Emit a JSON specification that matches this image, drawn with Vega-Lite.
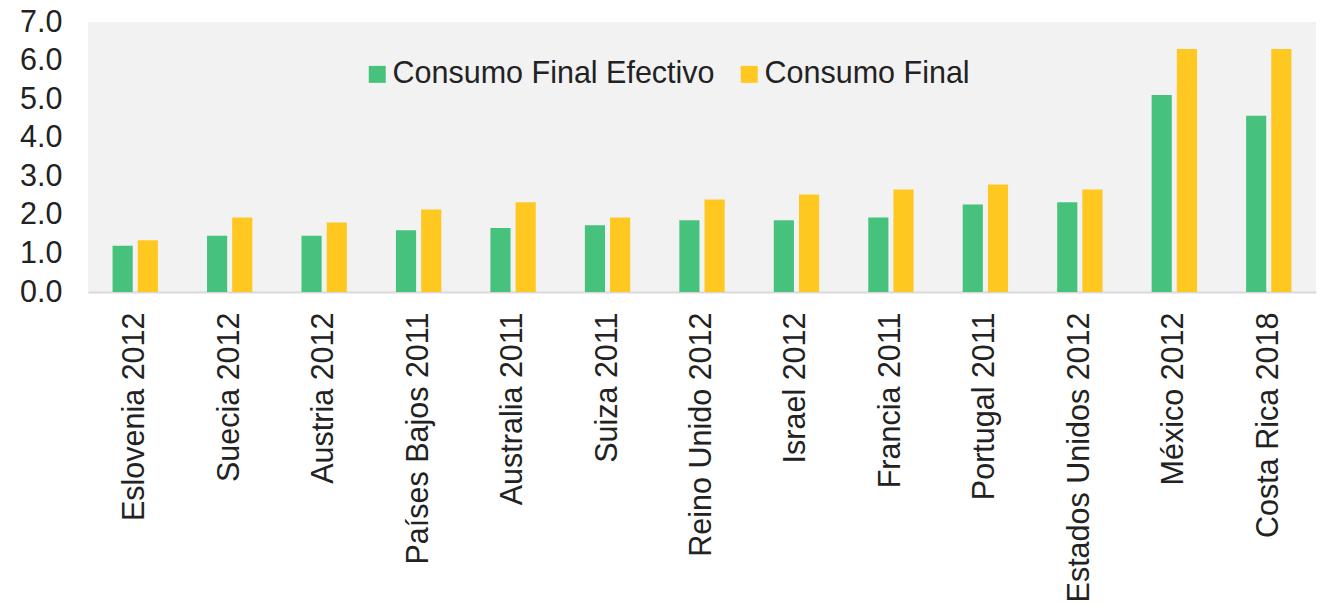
{
  "$schema": "https://vega.github.io/schema/vega-lite/v6.json",
  "width": 1228,
  "height": 270,
  "autosize": {"type": "none"},
  "padding": {"left": 88, "top": 22, "right": 11, "bottom": 312},
  "background": "#ffffff",
  "data": {
    "values": [
      {"pais": "Eslovenia 2012", "serie": "Consumo Final Efectivo", "valor": 1.20},
      {"pais": "Eslovenia 2012", "serie": "Consumo Final", "valor": 1.34},
      {"pais": "Suecia 2012", "serie": "Consumo Final Efectivo", "valor": 1.46},
      {"pais": "Suecia 2012", "serie": "Consumo Final", "valor": 1.93},
      {"pais": "Austria 2012", "serie": "Consumo Final Efectivo", "valor": 1.46},
      {"pais": "Austria 2012", "serie": "Consumo Final", "valor": 1.80},
      {"pais": "Países Bajos 2011", "serie": "Consumo Final Efectivo", "valor": 1.60},
      {"pais": "Países Bajos 2011", "serie": "Consumo Final", "valor": 2.14},
      {"pais": "Australia 2011", "serie": "Consumo Final Efectivo", "valor": 1.66},
      {"pais": "Australia 2011", "serie": "Consumo Final", "valor": 2.33},
      {"pais": "Suiza 2011", "serie": "Consumo Final Efectivo", "valor": 1.73},
      {"pais": "Suiza 2011", "serie": "Consumo Final", "valor": 1.93},
      {"pais": "Reino Unido 2012", "serie": "Consumo Final Efectivo", "valor": 1.86},
      {"pais": "Reino Unido 2012", "serie": "Consumo Final", "valor": 2.40},
      {"pais": "Israel 2012", "serie": "Consumo Final Efectivo", "valor": 1.86},
      {"pais": "Israel 2012", "serie": "Consumo Final", "valor": 2.53},
      {"pais": "Francia 2011", "serie": "Consumo Final Efectivo", "valor": 1.93},
      {"pais": "Francia 2011", "serie": "Consumo Final", "valor": 2.66},
      {"pais": "Portugal 2011", "serie": "Consumo Final Efectivo", "valor": 2.27},
      {"pais": "Portugal 2011", "serie": "Consumo Final", "valor": 2.79},
      {"pais": "Estados Unidos 2012", "serie": "Consumo Final Efectivo", "valor": 2.33},
      {"pais": "Estados Unidos 2012", "serie": "Consumo Final", "valor": 2.66},
      {"pais": "México 2012", "serie": "Consumo Final Efectivo", "valor": 5.11},
      {"pais": "México 2012", "serie": "Consumo Final", "valor": 6.30},
      {"pais": "Costa Rica 2018", "serie": "Consumo Final Efectivo", "valor": 4.57},
      {"pais": "Costa Rica 2018", "serie": "Consumo Final", "valor": 6.30}
    ]
  },
  "mark": {"type": "bar"},
  "encoding": {
    "x": {
      "field": "pais",
      "type": "nominal",
      "sort": null,
      "scale": {"paddingInner": 0.52, "paddingOuter": 0.26},
      "axis": {
        "title": null,
        "labelAngle": -90,
        "labelFont": "Liberation Sans",
        "labelFontSize": 30.5,
        "labelColor": "#222222",
        "labelPadding": 20,
        "ticks": false,
        "domainColor": "#d9d9d9",
        "domainWidth": 2,
        "labelLimit": 400
      }
    },
    "xOffset": {
      "field": "serie",
      "type": "nominal",
      "sort": ["Consumo Final Efectivo", "Consumo Final"],
      "scale": {"paddingInner": 0.2}
    },
    "y": {
      "field": "valor",
      "type": "quantitative",
      "scale": {"domain": [0, 7], "nice": false},
      "axis": {
        "title": null,
        "values": [0, 1, 2, 3, 4, 5, 6, 7],
        "format": ".1f",
        "labelFont": "Liberation Sans",
        "labelFontSize": 30.5,
        "labelColor": "#222222",
        "labelPadding": 26,
        "ticks": false,
        "domain": false,
        "grid": false
      }
    },
    "color": {
      "field": "serie",
      "type": "nominal",
      "sort": ["Consumo Final Efectivo", "Consumo Final"],
      "scale": {"domain": ["Consumo Final Efectivo", "Consumo Final"], "range": ["#47c27c", "#ffc820"]},
      "legend": {
        "title": null,
        "orient": "none",
        "direction": "horizontal",
        "legendX": 274,
        "legendY": 37,
        "symbolType": "square",
        "symbolSize": 289,
        "symbolStrokeWidth": 0,
        "symbolOpacity": 1,
        "labelFont": "Liberation Sans",
        "labelFontSize": 30.5,
        "labelColor": "#222222",
        "labelOffset": 0,
        "columnPadding": 19,
        "padding": 0,
        "labelLimit": 500
      }
    }
  },
  "config": {
    "view": {"fill": "#f2f2f2", "stroke": null}
  }
}
